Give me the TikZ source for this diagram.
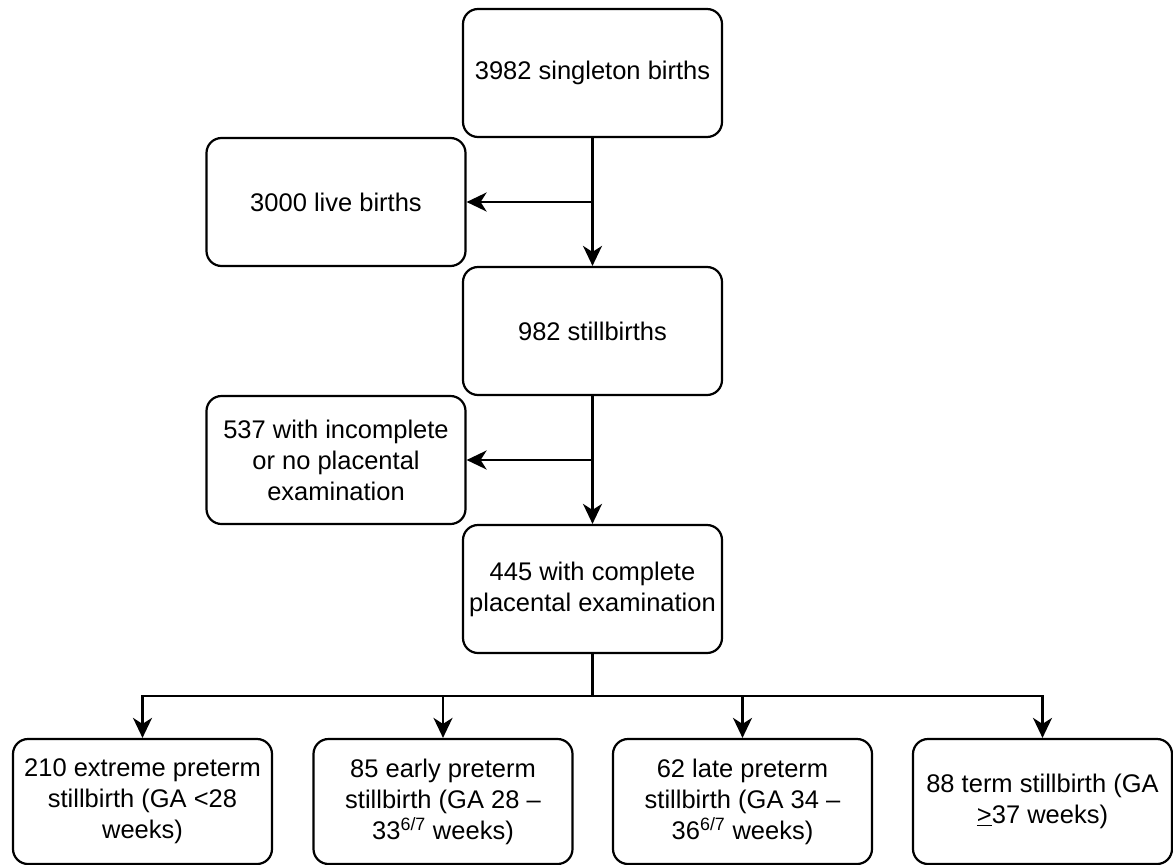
\documentclass[tikz,border=0pt]{standalone}
\usepackage{fontspec}
\setmainfont{Liberation Sans}
\usetikzlibrary{arrows.meta}
\begin{document}
\begin{tikzpicture}[x=1pt,y=-1pt,
  box/.style={draw, line width=2.2pt, rounded corners=15pt, align=center,
    minimum width=259pt, inner sep=2pt,
    font=\fontsize{25.5}{31}\selectfont},
  tall/.style={box, minimum height=128pt},
  low/.style={box, minimum height=125pt},
  conn/.style={line width=2.2pt},
  arr/.style={conn, -{Stealth[length=20pt,width=19pt,inset=6pt]}}]
\useasboundingbox (0,0) rectangle (1173,865);
\fill[white] (0,0) rectangle (1173,865);
\node[tall] (top) at (592.5,73) {3982 singleton births};
\node[tall] (live) at (336,202) {3000 live births};
\node[tall] (still) at (592.5,331) {982 stillbirths};
\node[tall] (incomplete) at (336,460) {537 with incomplete\\or no placental\\examination};
\node[tall] (complete) at (592.5,589) {445 with complete\\placental examination};
\node[low] (b1) at (142.5,801.5) {210 extreme preterm\\stillbirth (GA <28\\weeks)};
\node[low] (b2) at (443,801.5) {85 early preterm\\stillbirth (GA 28 –\\33\textsuperscript{6/7} weeks)};
\node[low] (b3) at (742.5,801.5) {62 late preterm\\stillbirth (GA 34 –\\36\textsuperscript{6/7} weeks)};
\node[low] (b4) at (1042.5,801.5) {88 term stillbirth (GA\\\underline{>}37 weeks)};
\draw[arr] (top) -- (still);
\draw[arr] (top.south |- live.east) -- (live.east);
\draw[arr] (still) -- (complete);
\draw[arr] (still.south |- incomplete.east) -- (incomplete.east);
\coordinate (bus) at (592.5,696);
\draw[conn] (complete.south) -- (bus);
\draw[arr] (bus) -| (b1.north);
\draw[arr] (bus) -| (b2.north);
\draw[arr] (bus) -| (b3.north);
\draw[arr] (bus) -| (b4.north);
\end{tikzpicture}
\end{document}
